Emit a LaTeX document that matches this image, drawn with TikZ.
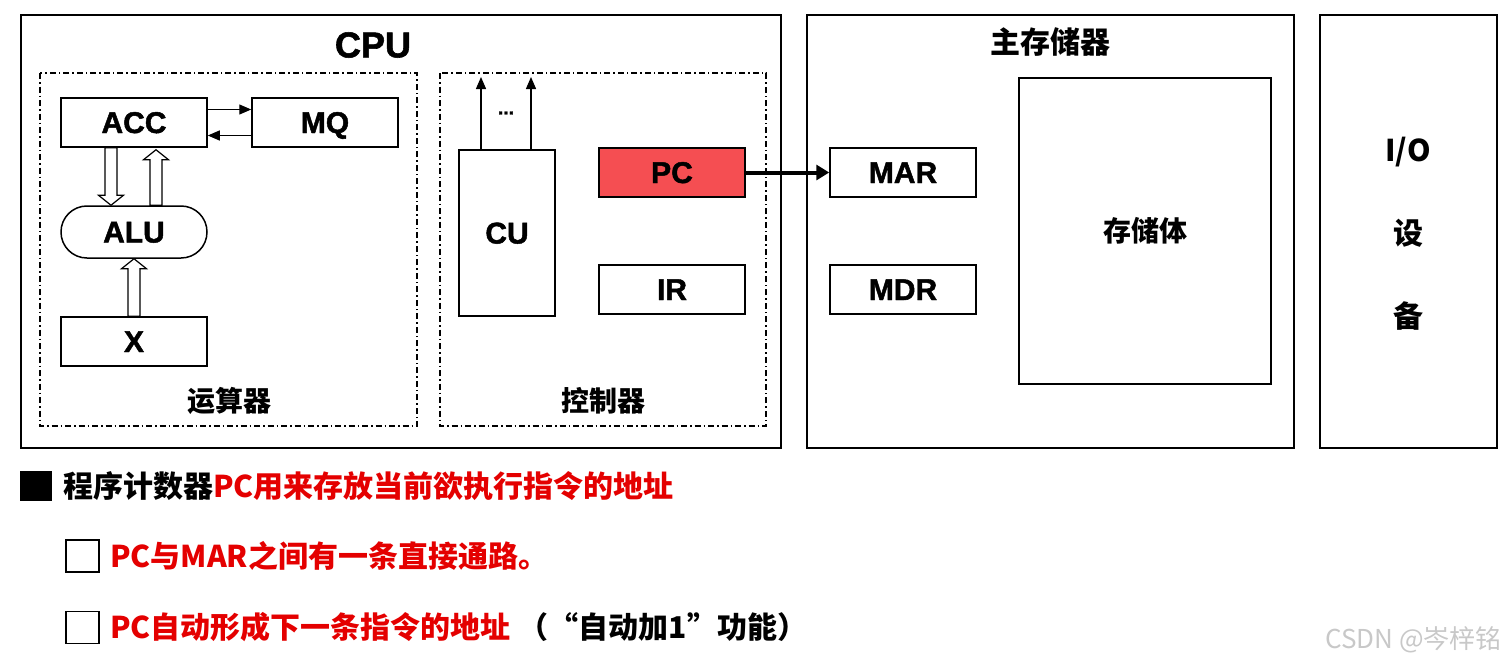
\documentclass[tikz,border=0pt]{standalone}
\usepackage{fontspec}
\setmainfont{Liberation Sans}
\newfontfamily\heavy{Liberation Sans Bold}[FakeBold=1.6]
\newfontfamily\cjk{Noto Sans CJK SC}
\usetikzlibrary{arrows.meta,calc}
\definecolor{pcred}{RGB}{245,78,82}
\definecolor{txtred}{RGB}{228,0,0}
\definecolor{wm}{RGB}{200,200,200}
\newcommand\hollowarrow[3]{\draw[harrow] let \p1=#1, \p2=#2, \p3=($#2+(0,#3)$) in
  (\x1-6pt,\y1) -- (\x1-6pt,\y3) -- (\x1-12.5pt,\y3) -- (\x1,\y2) -- (\x1+12.5pt,\y3) -- (\x1+6pt,\y3) -- (\x1+6pt,\y1) -- cycle;}
\begin{document}
\begin{tikzpicture}[x=1pt,y=-1pt,
 box/.style={draw,line width=1.5pt,minimum width=146pt,minimum height=49pt,inner sep=0pt,text height=21pt,text depth=0pt,font=\heavy\fontsize{30}{32}\selectfont},
 frame/.style={draw,line width=1.6pt},
 dashframe/.style={draw,line width=1.3pt,dash pattern=on 6pt off 3pt on 1.5pt off 3pt},
 lbl/.style={font=\cjk\fontsize{28}{30}\selectfont\bfseries,inner sep=0pt},
 thinarrow/.style={line width=1.3pt,-{Triangle[length=12pt,width=10pt]}},
 harrow/.style={line width=1.2pt,fill=white},
 line1/.style={anchor=west,inner sep=0pt,font=\cjk\fontsize{30}{32}\selectfont\bfseries},
 chk/.style={draw,line width=1.3pt,minimum width=33pt,minimum height=32pt,inner sep=0pt},
]
\useasboundingbox (0,0) rectangle (1510,672);
% outer frames
\draw[frame] (21,15) rectangle (781,448);
\draw[frame] (807,15) rectangle (1294,448);
\draw[frame] (1320,15) rectangle (1497,448);
\draw[dashframe] (40,73) rectangle (417,426);
\draw[dashframe] (440,73) rectangle (766,426);
% titles
\node[inner sep=0pt,font=\heavy\fontsize{36}{38}\selectfont] (cputitle) at (373,45) {CPU};
\node[lbl,font=\cjk\fontsize{30}{32}\selectfont\bfseries] (memtitle) at (1050,42) {主存储器};
\node[lbl] (alutitle) at (229,401) {运算器};
\node[lbl] (cutitle) at (603,401) {控制器};
\node[lbl,font=\cjk\fontsize{30}{32}\selectfont\bfseries] (io1) at (1408,152) {I/O};
\node[lbl,font=\cjk\fontsize{30}{32}\selectfont\bfseries] (io2) at (1408,233) {设};
\node[lbl,font=\cjk\fontsize{30}{32}\selectfont\bfseries] (io3) at (1408,316) {备};
% ALU unit
\node[box] (acc) at (134,122.5) {ACC};
\node[box] (mq) at (325,122.5) {MQ};
\node[box,minimum height=52pt,rounded corners=25.9pt] (alu) at (134,232) {ALU};
\node[box] (x) at (134,341.5) {X};
\draw[thinarrow] ($(acc.east)+(0,-13)$) -- ($(mq.west)+(0,-13)$);
\draw[thinarrow] ($(mq.west)+(0,13)$) -- ($(acc.east)+(0,13)$);
\hollowarrow{($(acc.south)+(-23,0)$)}{($(alu.north)+(-23,0)$)}{-10}
\hollowarrow{($(alu.north)+(22,0)$)}{($(acc.south)+(22,2)$)}{10}
\hollowarrow{(x.north)}{(alu.south)}{10}
% control unit
\node[box,minimum width=96pt,minimum height=166pt] (cu) at (507,233) {CU};
\coordinate (cu1) at (481,77);
\coordinate (cu2) at (531,77);
\draw[thinarrow] (cu.north -| cu1) -- (cu1);
\draw[thinarrow] (cu.north -| cu2) -- (cu2);
\node[inner sep=0pt,font=\heavy\fontsize{19}{19}\selectfont] (dots) at (506,113) {...};
\node[box,fill=pcred] (pc) at (672,172.5) {PC};
\node[box] (ir) at (672,289.5) {IR};
% memory
\node[box] (mar) at (903,172.5) {MAR};
\node[box] (mdr) at (903,289.5) {MDR};
\node[draw,line width=1.5pt,minimum width=252pt,minimum height=306pt,inner sep=0pt,font=\cjk\fontsize{28}{30}\selectfont\bfseries] (store) at (1145,231) {存储体};
\draw[line width=4pt,-{Triangle[length=13pt,width=15pt]}] (pc.east) -- (mar.west);
% bottom text
\node[fill=black,minimum width=32pt,minimum height=30pt,inner sep=0pt] (sq) at (36,486) {};
\node[line1] (l1) at (63,486) {程序计数器\textcolor{txtred}{PC用来存放当前欲执行指令的地址}};
\node[chk] (cb1) at (82.5,556) {};
\node[line1] (l2) at (110,556) {\textcolor{txtred}{PC与MAR之间有一条直接通路。}};
\node[chk] (cb2) at (82.5,627.5) {};
\node[line1] (l3) at (110,627) {\textcolor{txtred}{PC自动形成下一条指令的地址}\hspace{8pt}（“自动加1”功能）};
\node[anchor=east,inner sep=0pt,text=wm,font=\cjk\fontsize{26}{28}\selectfont] (wmk) at (1502,640) {CSDN @岑梓铭};
\end{tikzpicture}
\end{document}
